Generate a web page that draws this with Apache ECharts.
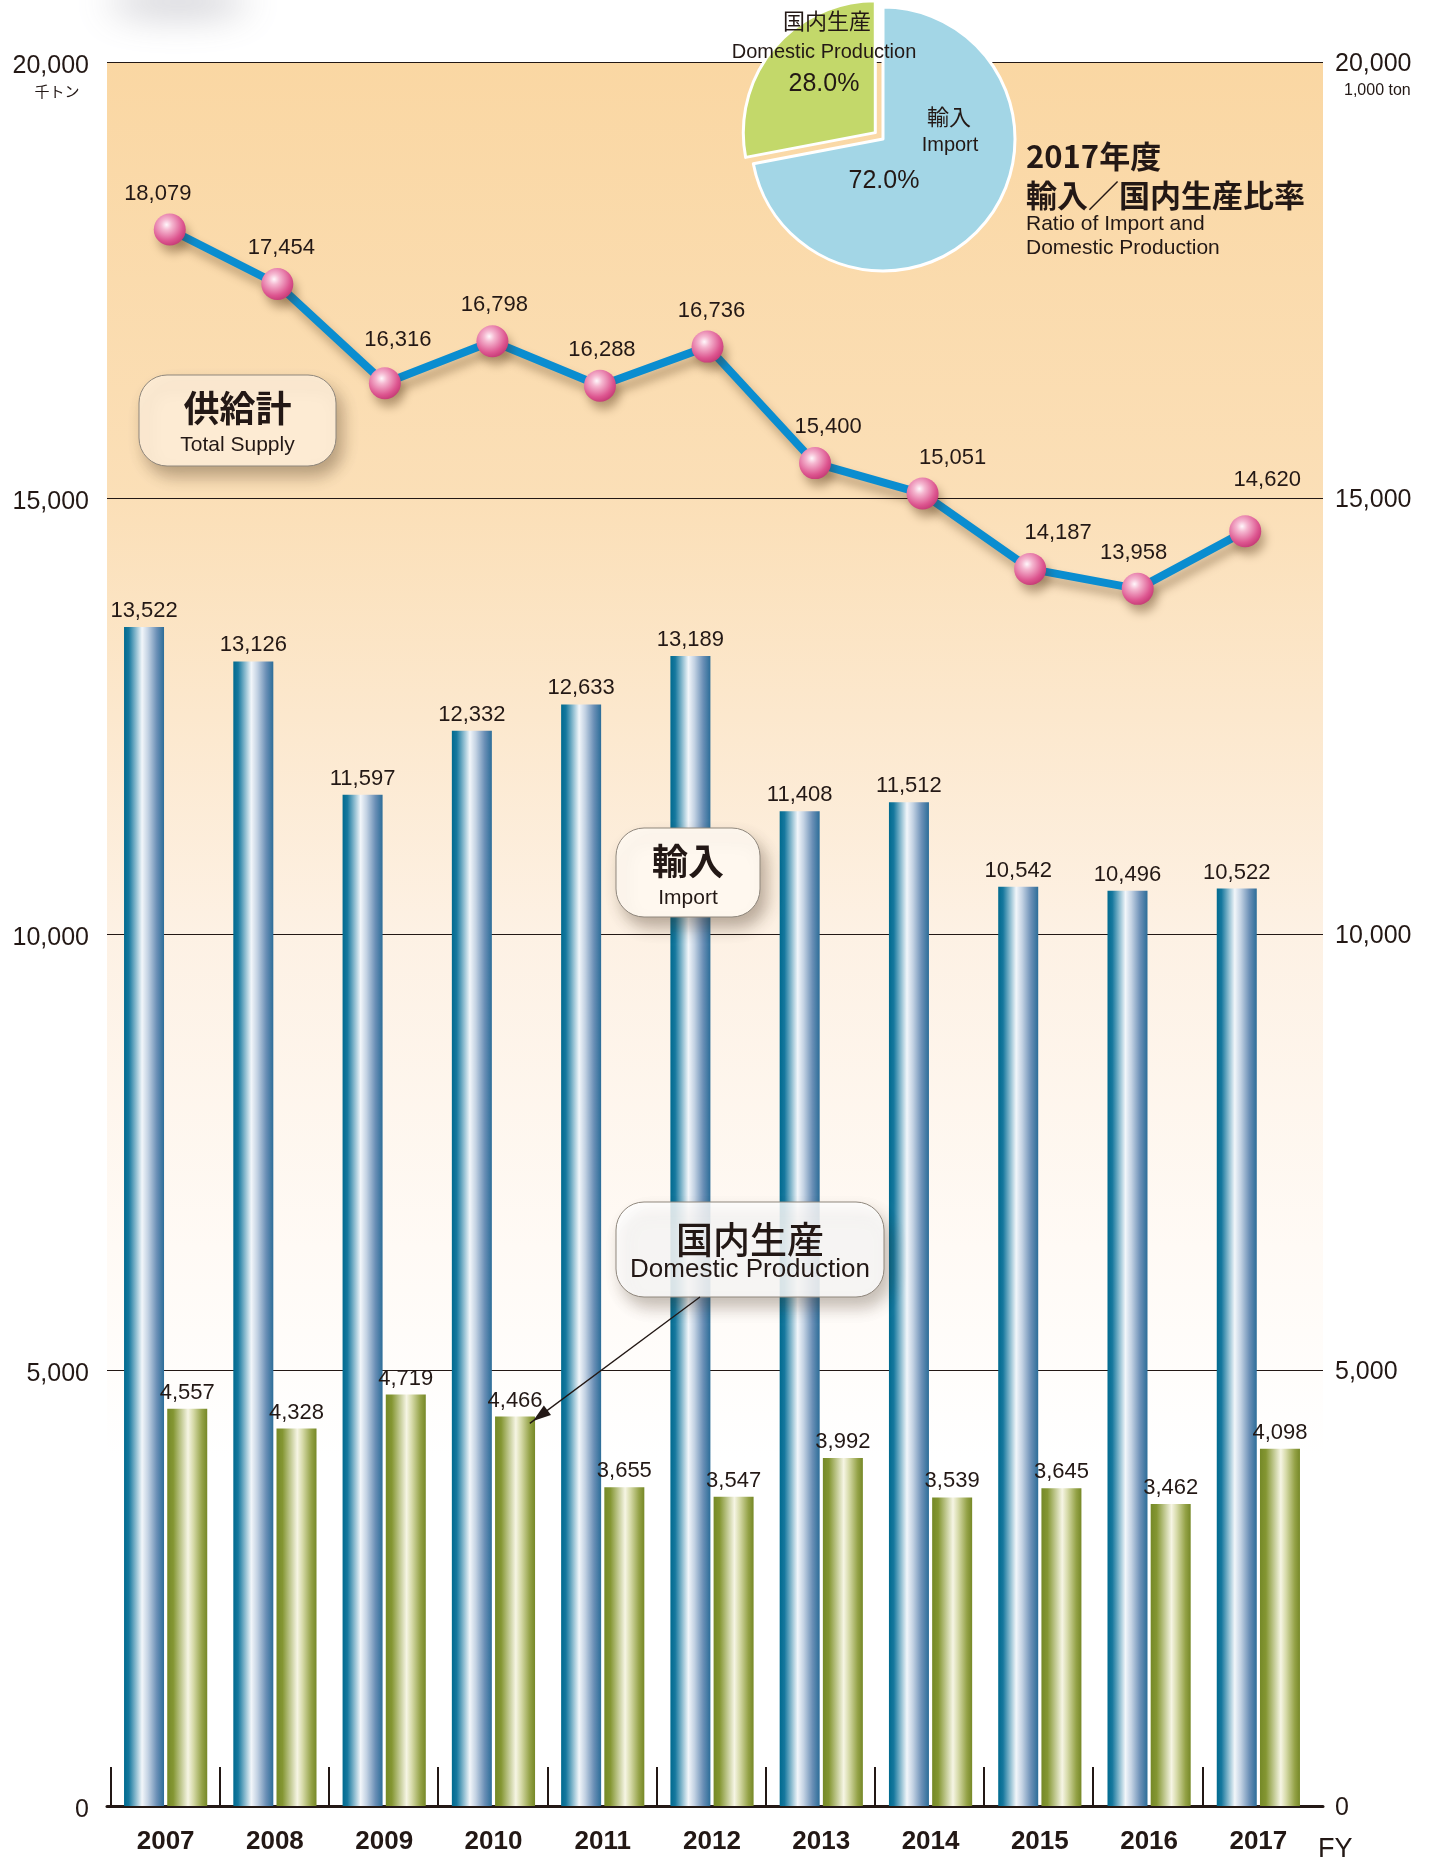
<!DOCTYPE html>
<html>
<head>
<meta charset="utf-8">
<script src="https://cdn.jsdelivr.net/npm/echarts@6/dist/echarts.min.js"></script>
<style>
  html, body { margin: 0; padding: 0; background: #fff; }
  #chart { width: 1439px; height: 1860px; }
</style>
</head>
<body>
<div id="chart"></div>
<script>
// data
var years = ['2007', '2008', '2009', '2010', '2011', '2012', '2013', '2014', '2015', '2016', '2017'];
var importValues = [13522, 13126, 11597, 12332, 12633, 13189, 11408, 11512, 10542, 10496, 10522];
var domesticValues = [4557, 4328, 4719, 4466, 3655, 3547, 3992, 3539, 3645, 3462, 4098];
var totalSupply = [18079, 17454, 16316, 16798, 16288, 16736, 15400, 15051, 14187, 13958, 14620];
var yMax = 20000;
var yStep = 5000;
var pieNames = ['輸入', '国内生産'];
var pieNamesEn = ['Import', 'Domestic Production'];
var pieShares = [72.0, 28.0];

var INK = '#231815';
var NUM_FONT = '"Liberation Sans", Arial, sans-serif';
var JP_FONT = '"Noto Sans CJK JP", sans-serif';

function fmt(v) {
  return String(v).replace(/\B(?=(\d{3})+(?!\d))/g, ',');
}

// small nudges for the total supply labels (px)
var labelNudge = [[-12, 0], [4, 0], [13, -7], [2, 0], [2, 0], [4, 0], [13, 0], [30, 0], [28, 0], [-4, 0], [22, -15]];

var blueBar = {
  type: 'linear', x: 0, y: 0, x2: 1, y2: 0,
  colorStops: [
    { offset: 0, color: '#006a8f' },
    { offset: 0.12, color: '#16789e' },
    { offset: 0.45, color: '#f2f6fa' },
    { offset: 0.6, color: '#c3d2e3' },
    { offset: 0.82, color: '#6a8fb6' },
    { offset: 1, color: '#2c6d98' }
  ]
};
var greenBar = {
  type: 'linear', x: 0, y: 0, x2: 1, y2: 0,
  colorStops: [
    { offset: 0, color: '#758927' },
    { offset: 0.15, color: '#849632' },
    { offset: 0.52, color: '#f6f5e4' },
    { offset: 0.65, color: '#d7dbaa' },
    { offset: 0.87, color: '#94a247' },
    { offset: 1, color: '#768827' }
  ]
};
var pinkBall = {
  type: 'radial', x: 0.4, y: 0.35, r: 0.68,
  colorStops: [
    { offset: 0, color: '#fff7fb' },
    { offset: 0.25, color: '#f5b7d0' },
    { offset: 0.75, color: '#dd5690' },
    { offset: 1, color: '#c63a76' }
  ]
};

var bg = {
  type: 'linear', x: 0, y: 0, x2: 0, y2: 1,
  colorStops: [
    { offset: 0, color: '#fad7a3' },
    { offset: 0.25, color: '#fbdfb7' },
    { offset: 0.5, color: '#fdf1e4' },
    { offset: 0.68, color: '#fffaf5' },
    { offset: 0.8, color: '#ffffff' },
    { offset: 1, color: '#ffffff' }
  ]
};

function noteBox(x, y, w, h, fill, big, small, bigSize, smallSize, bigY, smallY, bigWeight) {
  return {
    type: 'group',
    children: [
      {
        type: 'rect', z: 100, shape: { x: x, y: y, width: w, height: h, r: 28 },
        style: {
          fill: fill, stroke: '#8f877d', lineWidth: 1,
          shadowBlur: 16, shadowColor: 'rgba(60,40,20,0.35)', shadowOffsetX: 6, shadowOffsetY: 10
        }
      },
      {
        type: 'text', z: 101, x: x + w / 2, y: bigY,
        style: { text: big, font: bigWeight + ' ' + bigSize + 'px ' + JP_FONT, fill: INK, align: 'center', verticalAlign: 'middle' }
      },
      {
        type: 'text', z: 101, x: x + w / 2, y: smallY,
        style: { text: small, font: smallSize + 'px ' + NUM_FONT, fill: INK, align: 'center', verticalAlign: 'middle' }
      }
    ]
  };
}

// arrow from the domestic production note to the 2010 bar
var arrowFrom = [700, 1297], arrowTo = [533, 1421];
var adx = arrowTo[0] - arrowFrom[0], ady = arrowTo[1] - arrowFrom[1];
var alen = Math.sqrt(adx * adx + ady * ady);
var ux = adx / alen, uy = ady / alen;
var headL = 18, headW = 6;
var arrowHead = [
  arrowTo,
  [arrowTo[0] - ux * headL - uy * headW, arrowTo[1] - uy * headL + ux * headW],
  [arrowTo[0] - ux * headL + uy * headW, arrowTo[1] - uy * headL - ux * headW]
];

var chart = echarts.init(document.getElementById('chart'), null, { renderer: 'canvas' });

var option = {
  animation: false,
  backgroundColor: '#ffffff',
  grid: [
    { left: 107, right: 116, top: 62, bottom: 54, show: true, backgroundColor: bg, borderWidth: 0 },
    { left: 111, right: 126, top: 62, bottom: 54 },
    { left: 116, right: 140, top: 62, bottom: 54 },
    // tick grid: shifted half a category so ticks fall on the bar group boundaries
    { left: 56, right: 182, top: 62, bottom: 54 }
  ],
  xAxis: [
    {
      gridIndex: 0, type: 'category', data: years,
      axisLine: { show: true, lineStyle: { color: INK, width: 3 } },
      axisTick: { show: false }, axisLabel: { show: false }, splitLine: { show: false }
    },
    {
      gridIndex: 1, type: 'category', data: years,
      axisLine: { show: false },
      axisTick: { show: false },
      axisLabel: { color: INK, fontSize: 26, fontWeight: 'bold', fontFamily: NUM_FONT, margin: 23 }
    },
    {
      gridIndex: 2, type: 'category', data: years, show: false
    },
    {
      gridIndex: 3, type: 'category', data: years,
      axisLine: { show: false },
      axisTick: { show: true, inside: true, alignWithLabel: true, length: 39, lineStyle: { color: INK, width: 2 } },
      axisLabel: { show: false }
    }
  ],
  yAxis: [
    {
      gridIndex: 0, type: 'value', min: 0, max: yMax, interval: yStep, position: 'left',
      axisLine: { show: false }, axisTick: { show: false },
      axisLabel: {
        color: INK, fontSize: 25, fontFamily: NUM_FONT, margin: 18,
        formatter: function (v) { return '{n|' + fmt(v) + '}'; },
        rich: { n: { fontSize: 25, fontFamily: NUM_FONT, color: INK, padding: [8, 0, 0, 0] } }
      },
      splitLine: { show: true, lineStyle: { color: INK, width: 1 } }
    },
    {
      gridIndex: 0, type: 'value', min: 0, max: yMax, interval: yStep, position: 'right',
      axisLine: { show: false }, axisTick: { show: false },
      axisLabel: {
        color: INK, fontSize: 25, fontFamily: NUM_FONT, margin: 12,
        formatter: function (v) { return '{n|' + fmt(v) + '}'; },
        rich: { n: { fontSize: 25, fontFamily: NUM_FONT, color: INK, padding: [4, 0, 0, 0] } }
      },
      splitLine: { show: false }
    },
    { gridIndex: 1, type: 'value', min: 0, max: yMax, show: false, splitLine: { show: false } },
    { gridIndex: 2, type: 'value', min: 0, max: yMax, show: false, splitLine: { show: false } },
    { gridIndex: 3, type: 'value', min: 0, max: yMax, show: false, splitLine: { show: false } }
  ],
  series: [
    {
      name: '輸入', type: 'bar', xAxisIndex: 1, yAxisIndex: 2,
      data: importValues, barWidth: 40, barGap: '8%',
      itemStyle: { color: blueBar },
      label: { show: true, position: 'top', distance: 5, color: INK, fontSize: 22, fontFamily: NUM_FONT, formatter: function (p) { return fmt(p.value); } },
      z: 3
    },
    {
      name: '国内生産', type: 'bar', xAxisIndex: 1, yAxisIndex: 2,
      data: domesticValues, barWidth: 40, barGap: '8%',
      itemStyle: { color: greenBar },
      label: { show: true, position: 'top', distance: 5, color: INK, fontSize: 22, fontFamily: NUM_FONT, formatter: function (p) { return fmt(p.value); } },
      z: 3
    },
    {
      name: '供給計', type: 'line', xAxisIndex: 2, yAxisIndex: 3,
      data: totalSupply.map(function (v, i) {
        return { value: v, label: { offset: labelNudge[i] } };
      }),
      symbol: 'circle', symbolSize: 32,
      lineStyle: { color: '#0a8dd0', width: 8, shadowColor: 'rgba(70,40,10,0.35)', shadowBlur: 10, shadowOffsetX: 4, shadowOffsetY: 8 },
      itemStyle: { color: pinkBall, borderWidth: 0, shadowColor: 'rgba(70,40,10,0.35)', shadowBlur: 10, shadowOffsetX: 4, shadowOffsetY: 8 },
      label: { show: true, position: 'top', distance: 9, color: INK, fontSize: 22, fontFamily: NUM_FONT, formatter: function (p) { return fmt(p.value); } },
      z: 5
    },
    {
      name: 'ratio', type: 'pie', center: [883, 139], radius: 132,
      startAngle: 90, clockwise: true,
      selectedMode: 'single', selectedOffset: 10,
      label: { show: false }, labelLine: { show: false },
      itemStyle: { borderColor: '#ffffff', borderWidth: 3 },
      emphasis: { disabled: true },
      data: [
        { value: pieShares[0], name: pieNames[0], itemStyle: { color: '#a3d6e6' } },
        { value: pieShares[1], name: pieNames[1], selected: true, itemStyle: { color: '#c3d86a' } }
      ],
      z: 20
    }
  ],
  graphic: [
    // soft grey smudge at the top left (only the blurred shadow lands on the canvas)
    {
      type: 'ellipse', z: 1, shape: { cx: 178, cy: -400, rx: 70, ry: 14 },
      style: { fill: '#cfcfd5', shadowBlur: 36, shadowColor: 'rgba(195,195,202,0.85)', shadowOffsetY: 402 }
    },
    // axis units
    { type: 'text', z: 100, x: 57, y: 91, style: { text: '千トン', font: '15px ' + JP_FONT, fill: INK, align: 'center', verticalAlign: 'middle' } },
    { type: 'text', z: 100, x: 1344, y: 91, style: { text: '1,000 ton', font: '16px ' + NUM_FONT, fill: INK, align: 'left', verticalAlign: 'middle' } },
    { type: 'text', z: 100, x: 1318, y: 1850, style: { text: 'FY', font: '27px ' + NUM_FONT, fill: INK, align: 'left', verticalAlign: 'middle' } },
    // pie labels
    { type: 'text', z: 100, x: 827, y: 21, style: { text: pieNames[1], font: '22px ' + JP_FONT, fill: INK, align: 'center', verticalAlign: 'middle' } },
    { type: 'text', z: 100, x: 824, y: 52, style: { text: pieNamesEn[1], font: '20px ' + NUM_FONT, fill: INK, align: 'center', verticalAlign: 'middle' } },
    { type: 'text', z: 100, x: 824, y: 84, style: { text: pieShares[1].toFixed(1) + '%', font: '25px ' + NUM_FONT, fill: INK, align: 'center', verticalAlign: 'middle' } },
    { type: 'text', z: 100, x: 949, y: 117, style: { text: pieNames[0], font: '22px ' + JP_FONT, fill: INK, align: 'center', verticalAlign: 'middle' } },
    { type: 'text', z: 100, x: 950, y: 145, style: { text: pieNamesEn[0], font: '20px ' + NUM_FONT, fill: INK, align: 'center', verticalAlign: 'middle' } },
    { type: 'text', z: 100, x: 884, y: 181, style: { text: pieShares[0].toFixed(1) + '%', font: '25px ' + NUM_FONT, fill: INK, align: 'center', verticalAlign: 'middle' } },
    // pie title
    { type: 'text', z: 100, x: 1026, y: 156, style: { text: '2017年度', font: 'bold 31px ' + JP_FONT, fill: INK, align: 'left', verticalAlign: 'middle' } },
    { type: 'text', z: 100, x: 1026, y: 195, style: { text: '輸入／国内生産比率', font: 'bold 31px ' + JP_FONT, fill: INK, align: 'left', verticalAlign: 'middle' } },
    { type: 'text', z: 100, x: 1026, y: 224, style: { text: 'Ratio of Import and', font: '21px ' + NUM_FONT, fill: INK, align: 'left', verticalAlign: 'middle' } },
    { type: 'text', z: 100, x: 1026, y: 248, style: { text: 'Domestic Production', font: '21px ' + NUM_FONT, fill: INK, align: 'left', verticalAlign: 'middle' } },
    // notes
    noteBox(139, 375, 197, 91, '#fdebd3', '供給計', 'Total Supply', 36, 21, 408, 445, 'bold'),
    noteBox(616, 828, 144, 89, '#fff8ef', '輸入', 'Import', 36, 21, 861, 898, 'bold'),
    noteBox(616, 1202, 268, 95, 'rgba(255,255,255,0.84)', '国内生産', 'Domestic Production', 37, 26, 1240, 1270, '500'),
    {
      type: 'line', z: 101, shape: { x1: arrowFrom[0], y1: arrowFrom[1], x2: arrowTo[0] + ux * 4, y2: arrowTo[1] + uy * 4 },
      style: { stroke: INK, lineWidth: 1.3 }
    },
    {
      type: 'polygon', z: 101, shape: { points: arrowHead },
      style: { fill: INK }
    }
  ]
};

chart.setOption(option);
</script>
</body>
</html>
